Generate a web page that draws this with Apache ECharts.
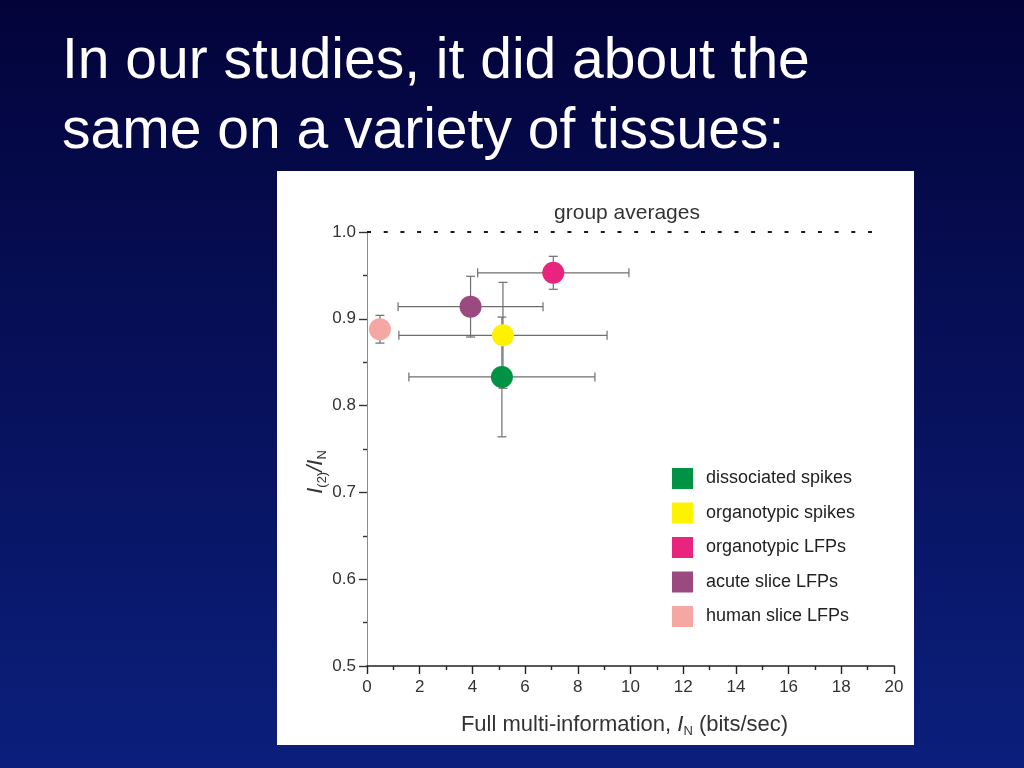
<!DOCTYPE html>
<html>
<head>
<meta charset="utf-8">
<script src="https://cdn.jsdelivr.net/npm/echarts@6/dist/echarts.min.js"></script>
<style>
html,body{margin:0;padding:0;width:1024px;height:768px;overflow:hidden;}
#c{width:1024px;height:768px;}
</style>
</head>
<body>
<div id="c"></div>
<script>
// ---- data ----
var categories = ['dissociated spikes', 'organotypic spikes', 'organotypic LFPs', 'acute slice LFPs', 'human slice LFPs'];
var xMean = [5.12, 5.16, 7.07, 3.93, 0.49];
var yMean = [0.833, 0.881, 0.953, 0.914, 0.888];
var xErr  = [3.53, 3.95, 2.87, 2.75, 0];
var yErr  = [0.069, 0.061, 0.019, 0.035, 0.016];
var colors = ['#009245', '#fff200', '#e8247e', '#9b4a80', '#f4a7a3'];
var refLineX = [0, 19.4];
var refLineY = [1.0, 1.0];
var xTicks = [0, 2, 4, 6, 8, 10, 12, 14, 16, 18, 20];
var yTicks = [0.5, 0.6, 0.7, 0.8, 0.9, 1.0];

var chart = echarts.init(document.getElementById('c'));
var FONT = '"Liberation Sans", Arial, sans-serif';

var errData = categories.map(function (c, i) {
  return [xMean[i], yMean[i], xErr[i], yErr[i]];
});

var series = [];
series.push({
  type: 'line',
  data: refLineX.map(function (x, i) { return [x, refLineY[i]]; }),
  symbol: 'none',
  silent: true,
  lineStyle: { color: '#1a1a1a', width: 2.2, type: [4, 12.7] },
  z: 1
});
series.push({
  type: 'custom',
  data: errData,
  renderItem: function (params, api) {
    var x = api.value(0), y = api.value(1), ex = api.value(2), ey = api.value(3);
    var c = api.coord([x, y]);
    var l = api.coord([x - ex, y]);
    var r = api.coord([x + ex, y]);
    var t = api.coord([x, y + ey]);
    var b = api.coord([x, y - ey]);
    var cap = 4.5;
    var st = { stroke: '#6e6e6e', lineWidth: 1.2 };
    var kids = [];
    if (ex > 0) {
      kids.push({ type: 'line', shape: { x1: l[0], y1: c[1], x2: r[0], y2: c[1] }, style: st });
      kids.push({ type: 'line', shape: { x1: l[0], y1: c[1] - cap, x2: l[0], y2: c[1] + cap }, style: st });
      kids.push({ type: 'line', shape: { x1: r[0], y1: c[1] - cap, x2: r[0], y2: c[1] + cap }, style: st });
    }
    if (ey > 0) {
      kids.push({ type: 'line', shape: { x1: c[0], y1: t[1], x2: c[0], y2: b[1] }, style: st });
      kids.push({ type: 'line', shape: { x1: c[0] - cap, y1: t[1], x2: c[0] + cap, y2: t[1] }, style: st });
      kids.push({ type: 'line', shape: { x1: c[0] - cap, y1: b[1], x2: c[0] + cap, y2: b[1] }, style: st });
    }
    return { type: 'group', children: kids };
  },
  silent: true,
  z: 2
});
categories.forEach(function (name, i) {
  series.push({
    name: name,
    type: 'scatter',
    data: [[xMean[i], yMean[i]]],
    symbol: 'circle',
    symbolSize: 22,
    itemStyle: { color: colors[i], opacity: 1 },
    z: 3
  });
});

var option = {
  animation: false,
  backgroundColor: {
    type: 'linear', x: 0, y: 0, x2: 0, y2: 1,
    colorStops: [{ offset: 0, color: '#03033a' }, { offset: 1, color: '#0b1f7c' }]
  },
  graphic: [
    { type: 'rect', shape: { x: 277, y: 171, width: 637, height: 574 }, style: { fill: '#ffffff' }, z: -10 },
    { type: 'text', left: 62, top: 34, style: { text: 'In our studies, it did about the', fill: '#ffffff', font: '57px ' + FONT } },
    { type: 'text', left: 62, top: 104, style: { text: 'same on a variety of tissues:', fill: '#ffffff', font: '57px ' + FONT } },
    { type: 'text', x: 627, y: 224, style: { text: 'group averages', fill: '#333', font: '21px ' + FONT, textAlign: 'center', textVerticalAlign: 'bottom' } },
    { type: 'text', x: 316, y: 472, rotation: Math.PI / 2,
      style: {
        text: '{i|I}{s|(2)}{t|/}{i|I}{s|N}',
        textAlign: 'center', textVerticalAlign: 'middle',
        rich: {
          t: { fontSize: 22, fill: '#333', fontFamily: FONT, fontStyle: 'italic', lineHeight: 26 },
          i: { fontSize: 22, fill: '#333', fontFamily: FONT, fontStyle: 'italic', lineHeight: 26 },
          s: { fontSize: 13, fill: '#333', fontFamily: FONT, verticalAlign: 'bottom', lineHeight: 20, padding: [9, 0, 0, 0] }
        }
      } }
  ],
  legend: {
    data: categories,
    orient: 'vertical',
    left: 667,
    top: 463,
    itemWidth: 21,
    itemHeight: 21,
    itemGap: 13.5,
    icon: 'rect',
    textStyle: { color: '#222', fontSize: 18, fontFamily: FONT, padding: [0, 0, 0, 8] },
    selectedMode: false
  },
  grid: { left: 367, top: 232, width: 527, height: 434, containLabel: false },
  xAxis: {
    type: 'value', min: 0, max: 20, interval: 2,
    axisLine: { lineStyle: { color: '#222', width: 1.6 } },
    axisTick: { length: 8, lineStyle: { color: '#222', width: 1.4 } },
    minorTick: { show: true, splitNumber: 2, length: 4, lineStyle: { color: '#222', width: 1.4 } },
    splitLine: { show: false },
    axisLabel: { color: '#333', fontSize: 17, fontFamily: FONT, margin: 13,
      formatter: function (v) { return xTicks.indexOf(v) >= 0 ? String(v) : ''; } },
    name: '{t|Full multi-information, }{i|I}{s|N}{t| (bits/sec)}',
    nameLocation: 'middle',
    nameGap: 46,
    nameTextStyle: {
      padding: [0, 12, 0, 0],
      rich: {
        t: { fontSize: 22, color: '#333', fontFamily: FONT, lineHeight: 26 },
        i: { fontSize: 22, color: '#333', fontFamily: FONT, fontStyle: 'italic', lineHeight: 26 },
        s: { fontSize: 13, color: '#333', fontFamily: FONT, verticalAlign: 'bottom', lineHeight: 20, padding: [10, 0, 0, 0] }
      }
    }
  },
  yAxis: {
    type: 'value', min: 0.5, max: 1.0, interval: 0.1,
    axisLine: { show: true, lineStyle: { color: '#8a8a8a', width: 1 } },
    axisTick: { show: true, length: 8, lineStyle: { color: '#333', width: 1.4 } },
    minorTick: { show: true, splitNumber: 2, length: 4, lineStyle: { color: '#333', width: 1.4 } },
    splitLine: { show: false },
    axisLabel: { color: '#333', fontSize: 17, fontFamily: FONT, margin: 11,
      formatter: function (v) {
        for (var k = 0; k < yTicks.length; k++) { if (Math.abs(yTicks[k] - v) < 1e-6) return yTicks[k].toFixed(1); }
        return '';
      } }
  },
  series: series
};
chart.setOption(option);
</script>
</body>
</html>
